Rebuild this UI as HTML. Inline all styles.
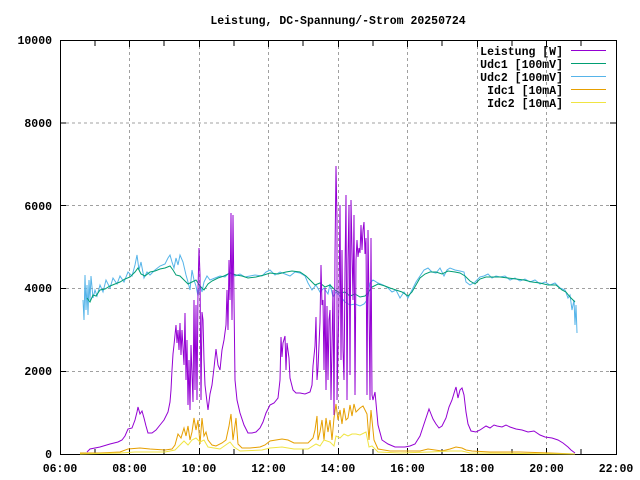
<!DOCTYPE html>
<html><head><style>body{margin:0;background:#fff}svg{display:block}text{font-family:"Liberation Mono",monospace;font-weight:bold;font-size:11.5px;fill:#000}</style></head>
<body>
<svg width="640" height="480" viewBox="0 0 640 480">
<rect width="640" height="480" fill="#fff"/>
<g stroke="#a0a0a0" stroke-dasharray="3,3" stroke-width="1">
<line x1="60" y1="123" x2="616" y2="123"/><line x1="60" y1="205.5" x2="616" y2="205.5"/><line x1="60" y1="288.5" x2="616" y2="288.5"/><line x1="60" y1="371.5" x2="616" y2="371.5"/>
<line x1="129.5" y1="40" x2="129.5" y2="454"/><line x1="199.5" y1="40" x2="199.5" y2="454"/><line x1="268.5" y1="40" x2="268.5" y2="454"/><line x1="338.5" y1="40" x2="338.5" y2="454"/><line x1="407.5" y1="40" x2="407.5" y2="454"/><line x1="477.5" y1="40" x2="477.5" y2="454"/><line x1="546.5" y1="40" x2="546.5" y2="454"/>
</g>
<g stroke="#000" stroke-width="1" fill="none">
<rect x="60.5" y="40.5" width="556" height="414"/>
<path d="M60 123h6M60 205.5h6M60 288.5h6M60 371.5h6M616 123h-6M616 205.5h-6M616 288.5h-6M616 371.5h-6
M95 454v-5M129.5 454v-6M164 454v-5M199.5 454v-6M234 454v-5M268.5 454v-6M303 454v-5M338.5 454v-6M373 454v-5M407.5 454v-6M442 454v-5M477.5 454v-6M512 454v-5M546.5 454v-6M581 454v-5
M95 41v5M129.5 41v6M164 41v5M199.5 41v6M234 41v5M268.5 41v6M303 41v5M338.5 41v6M373 41v5M407.5 41v6M442 41v5M477.5 41v6M512 41v5M546.5 41v6M581 41v5"/>
</g>
<text x="338" y="24" text-anchor="middle">Leistung, DC-Spannung/-Strom 20250724</text>
<g text-anchor="end">
<text x="52" y="44">10000</text><text x="52" y="127">8000</text><text x="52" y="210">6000</text><text x="52" y="292">4000</text><text x="52" y="375">2000</text><text x="52" y="458">0</text>
</g>
<g text-anchor="middle">
<text x="60" y="472">06:00</text><text x="129.5" y="472">08:00</text><text x="199" y="472">10:00</text><text x="268.5" y="472">12:00</text><text x="338" y="472">14:00</text><text x="407.5" y="472">16:00</text><text x="477" y="472">18:00</text><text x="546.5" y="472">20:00</text><text x="616" y="472">22:00</text>
</g>
<g fill="none" stroke-width="1">
<polyline stroke="#56b4e9" points="83,300 84,320 85,275 86,310 87,285 88,315 89,280 90,300 91,276 93,298 95,290 97,296 100,285 103,292 106,280 110,288 113,278 117,284 120,276 124,282 128,272 132,276 135,265 137,255 139,270 141,262 144,278 147,272 150,275 155,270 160,266 165,264 168,258 170,255 172,262 174,268 176,258 178,265 180,255 183,262 186,275 188,282 190,290 192,270 194,280 196,286 198,296 200,285 202,292 204,282 207,276 210,280 215,278 220,276 225,277 230,272 235,276 240,274 245,277 250,276 255,275 262,276 266,272 270,270 275,275 280,272 285,274 290,276 295,272 300,273 305,276 308,283 312,290 316,285 320,292 324,288 328,294 330,284 333,297 336,292 340,296 345,302 350,305 355,304 360,306 364,304 367,300 370,283 373,280 378,283 383,285 388,288 392,292 396,290 400,298 404,292 408,298 412,290 416,282 420,276 424,270 428,268 432,272 436,273 440,268 444,276 447,270 450,268 455,270 460,271 464,272 466,282 470,285 475,282 480,277 484,276 488,274 492,278 496,276 500,277 505,276 510,280 515,278 520,281 525,279 530,282 535,280 540,284 545,282 550,285 555,283 560,288 565,290 568,298 570,295 572,310 574,300 575,325 576,305 577,333"/>
<polyline stroke="#009e73" points="87,298 90,302 93,295 96,296 100,290 105,289 110,286 115,284 120,282 125,279 130,277 135,272 138,268 141,274 145,276 150,272 155,271 160,269 165,268 170,266 173,270 176,275 180,276 184,280 188,284 192,282 196,280 200,286 204,290 208,284 212,281 218,278 224,276 230,273 236,275 242,276 248,278 256,277 264,275 270,273 278,274 286,272 292,271 300,272 306,276 310,280 315,285 320,283 325,287 330,285 335,290 340,293 345,292 350,296 355,294 360,297 365,296 368,293 372,287 378,284 385,286 390,288 396,290 402,292 408,296 412,292 416,285 420,278 425,274 430,272 436,272 442,274 448,271 455,272 460,273 465,276 470,281 475,284 480,279 486,277 492,277 500,277 508,278 516,279 524,280 532,282 540,283 548,285 556,285 562,290 566,292 570,297 573,300 575,302"/>
<polyline stroke="#e69f00" points="80,453 100,453 120,452 128,449 140,448 150,449 165,450 172,449 175,445 178,434 181,438 184,428 186,436 188,426 190,440 192,432 194,418 196,430 198,420 200,444 202,418 204,436 206,432 208,440 212,445 216,446 222,443 226,440 229,426 231,414 233,440 236,418 238,444 242,448 250,448 260,447 265,445 270,441 276,440 282,439 288,440 294,443 300,443 308,443 313,438 315,430 317,416 318,440 320,432 322,420 324,440 326,418 328,432 330,420 332,440 334,418 336,404 338,420 340,410 342,424 344,408 346,420 348,418 350,405 352,416 354,404 356,412 358,410 360,408 363,406 365,410 367,414 369,440 371,410 374,440 378,449 390,451 410,451 420,451 428,449 435,450 442,451 450,449 456,447 462,448 466,450 472,451 490,452 520,452 550,453 575,454"/>
<polyline stroke="#f0e442" points="80,454 120,453 135,452 165,452 175,450 180,445 184,441 188,445 192,440 196,438 200,442 204,440 208,447 220,449 230,442 234,447 240,451 262,450 270,448 282,447 294,449 308,449 316,444 320,446 324,440 330,442 334,446 336,436 340,438 344,434 348,436 352,434 356,434 360,435 366,432 369,447 372,446 378,452 400,453 430,452 450,451 462,451 470,453 575,454"/>
<polyline stroke="#9400d3" points="87,452 90,449 100,447 110,444 118,442 122,440 125,436 128,429 132,428 135,420 137,412 138,407 140,414 142,411 144,418 146,426 148,433 152,433 156,430 160,425 164,420 168,412 170,402 171,390 172,370 173,354 174,345 176,325 177,343 178,330 179,350 180,323 181,355 182,330 184,365 185,313 186,380 187,340 188,405 189,360 190,410 191,345 193,402 194,300 195,390 196,305 197,400 198,290 199,248 200,275 201,400 202,312 203,320 204,360 205,385 207,402 208,410 210,394 212,385 214,368 216,349 218,365 220,370 222,350 224,340 226,325 227,290 228,330 229,260 230,300 231,213 232,320 233,215 234,300 235,380 237,400 240,413 244,425 248,433 252,433 256,432 260,428 263,422 266,413 270,405 274,403 278,398 280,380 281,337 282,357 283,343 285,336 286,370 287,343 289,358 290,378 293,390 296,393 300,393 305,394 310,392 312,385 313,366 315,346 316,317 317,380 318,368 320,322 321,265 322,305 323,300 324,370 325,288 326,390 327,306 328,380 329,320 330,310 331,400 333,290 334,415 335,255 336,166 337,220 337,400 339,300 340,205 341,360 342,250 343,350 344,380 345,270 346,195 347,400 348,260 349,205 350,375 351,200 352,250 353,300 354,215 355,395 356,260 357,240 358,257 359,248 360,253 361,225 362,250 363,230 364,222 365,254 366,238 367,395 368,230 369,300 370,400 371,238 372,395 373,400 375,392 378,425 382,440 388,444 395,447 405,447 410,446 415,444 420,436 424,424 427,415 429,409 431,414 433,419 436,424 439,428 442,426 446,418 449,407 452,400 455,390 456,387 458,398 460,390 462,388 464,395 466,412 468,424 471,431 476,432 480,430 486,426 490,428 494,425 497,426 502,427 506,425 510,427 516,429 522,430 528,432 534,431 540,435 545,437 552,438 558,440 563,443 568,447 571,450 575,453"/>
</g>
<g text-anchor="end">
<text x="563" y="55">Leistung [W]</text><text x="563" y="68">Udc1 [100mV]</text><text x="563" y="81">Udc2 [100mV]</text><text x="563" y="94">Idc1 [10mA]</text><text x="563" y="107">Idc2 [10mA]</text>
</g>
<g stroke-width="1">
<line x1="571" y1="50.5" x2="606" y2="50.5" stroke="#9400d3"/>
<line x1="571" y1="63.5" x2="606" y2="63.5" stroke="#009e73"/>
<line x1="571" y1="76.5" x2="606" y2="76.5" stroke="#56b4e9"/>
<line x1="571" y1="89.5" x2="606" y2="89.5" stroke="#e69f00"/>
<line x1="571" y1="102.5" x2="606" y2="102.5" stroke="#f0e442"/>
</g>
</svg>
</body></html>
